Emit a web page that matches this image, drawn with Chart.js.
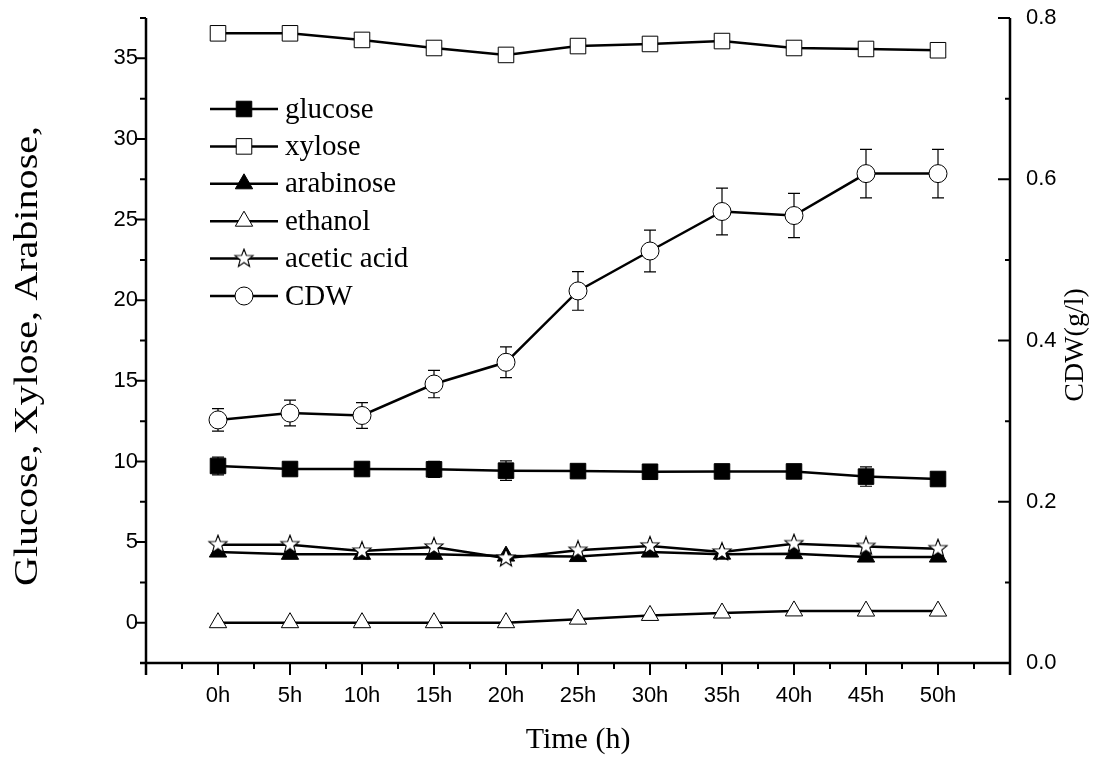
<!DOCTYPE html>
<html>
<head>
<meta charset="utf-8">
<script src="https://cdn.jsdelivr.net/npm/chart.js@4.4.1/dist/chart.umd.min.js"></script>
<style>
  body { margin: 0; background: #fff; }
  canvas { display: block; }
</style>
</head>
<body>
<canvas id="grafico" width="1093" height="771"></canvas>
<script>
const horas = [0, 5, 10, 15, 20, 25, 30, 35, 40, 45, 50];
const glucosa = [9.72, 9.53, 9.53, 9.51, 9.43, 9.40, 9.36, 9.38, 9.38, 9.06, 8.91];
const glucosaErr = [0.55, 0.3, 0.3, 0.5, 0.6, 0.3, 0.3, 0.3, 0.3, 0.6, 0.3];
const xilosa = [36.55, 36.55, 36.14, 35.64, 35.21, 35.76, 35.89, 36.07, 35.64, 35.58, 35.5];
const arabinosa = [4.38, 4.24, 4.24, 4.24, 4.13, 4.1, 4.38, 4.25, 4.28, 4.07, 4.07];
const etanol = [0, 0, 0, 0, 0, 0.22, 0.45, 0.6, 0.73, 0.72, 0.72];
const acetico = [4.84, 4.84, 4.44, 4.69, 4.0, 4.49, 4.76, 4.38, 4.9, 4.73, 4.59];
const cdw = [0.3015, 0.310, 0.307, 0.346, 0.373, 0.4615, 0.511, 0.56, 0.555, 0.607, 0.607];
const cdwErr = [0.014, 0.016, 0.016, 0.017, 0.019, 0.024, 0.026, 0.029, 0.0275, 0.03, 0.03];
const nombres = ["glucose", "xylose", "arabinose", "ethanol", "acetic acid", "CDW"];
const ticksIzq = [0, 5, 10, 15, 20, 25, 30, 35];
const ticksDer = [0, 0.2, 0.4, 0.6, 0.8];

const SANS = "'Liberation Sans', Arial, sans-serif";
const SERIF = "'Liberation Serif', 'Times New Roman', serif";

// estrella de cinco puntas (Chart.js no trae una)
const estrella = document.createElement("canvas");
estrella.width = 22;
estrella.height = 22;
{
    const c = estrella.getContext("2d");
    c.beginPath();
    for (let i = 0; i < 10; i++) {
        const r = i % 2 === 0 ? 9.5 : 4;
        const a = -Math.PI / 2 + i * Math.PI / 5;
        c.lineTo(11 + r * Math.cos(a), 11 + r * Math.sin(a));
    }
    c.closePath();
    c.fillStyle = "#fff";
    c.fill();
    c.lineWidth = 1.1;
    c.strokeStyle = "#000";
    c.stroke();
}

const puntos = (valores) => horas.map((h, i) => ({ x: h, y: valores[i] }));

const serie = (label, valores, estilo, relleno, radio, eje) => ({
    label: label,
    data: puntos(valores),
    yAxisID: eje,
    borderColor: "#000",
    borderWidth: 2.5,
    pointStyle: estilo,
    pointRadius: radio,
    pointBackgroundColor: relleno,
    pointBorderColor: "#000",
    pointBorderWidth: 1,
    tension: 0
});

const datasets = [
    serie(nombres[0], glucosa, "rect", "#000", 11, "y"),
    serie(nombres[1], xilosa, "rect", "#fff", 11, "y"),
    serie(nombres[2], arabinosa, "triangle", "#000", 10, "y"),
    serie(nombres[3], etanol, "triangle", "#fff", 10, "y"),
    serie(nombres[4], acetico, estrella, "#fff", 9, "y"),
    serie(nombres[5], cdw, "circle", "#fff", 9, "y1")
];
datasets[4].order = -1;

function barras(ctx, x, errores, valores, escala) {
    ctx.save();
    ctx.strokeStyle = "#000";
    ctx.lineWidth = 1.2;
    horas.forEach((h, i) => {
        const px = x.getPixelForValue(h);
        const arriba = escala.getPixelForValue(valores[i] + errores[i]);
        const abajo = escala.getPixelForValue(valores[i] - errores[i]);
        ctx.beginPath();
        ctx.moveTo(px, arriba); ctx.lineTo(px, abajo);
        ctx.moveTo(px - 6, arriba); ctx.lineTo(px + 6, arriba);
        ctx.moveTo(px - 6, abajo); ctx.lineTo(px + 6, abajo);
        ctx.stroke();
    });
    ctx.restore();
}

const sinRelleno = (s) => {
    s.paddingTop = 0; s.paddingBottom = 0;
    s.paddingLeft = 0; s.paddingRight = 0;
};

const extras = {
    id: "extras",
    beforeDatasetsDraw(chart) {
        const { ctx, scales } = chart;
        barras(ctx, scales.x, glucosaErr, glucosa, scales.y);
        barras(ctx, scales.x, cdwErr, cdw, scales.y1);
    },
    afterDraw(chart) {
        const { ctx, chartArea, scales } = chart;
        const { left, right, top, bottom } = chartArea;
        ctx.save();
        ctx.strokeStyle = "#000";
        ctx.lineWidth = 2.5;
        ctx.beginPath();
        ctx.moveTo(left, top); ctx.lineTo(left, bottom + 12);
        ctx.moveTo(left - 6, bottom); ctx.lineTo(right, bottom);
        ctx.moveTo(right, top); ctx.lineTo(right, bottom + 12);
        ctx.stroke();

        ctx.lineWidth = 2;
        ctx.beginPath();
        for (let v = -2.5; v <= 37.5; v += 2.5) {
            const py = scales.y.getPixelForValue(v);
            const largo = (v % 5 === 0) ? 11 : 6;
            ctx.moveTo(left - largo, py); ctx.lineTo(left, py);
        }
        for (let v = -2.5; v <= 52.5; v += 2.5) {
            const px = scales.x.getPixelForValue(v);
            const largo = (v % 5 === 0) ? 12 : 6;
            ctx.moveTo(px, bottom); ctx.lineTo(px, bottom + largo);
        }
        for (let k = 0; k <= 8; k++) {
            const py = scales.y1.getPixelForValue(k / 10);
            const largo = (k % 2 === 0) ? 12 : 5;
            ctx.moveTo(right - largo, py); ctx.lineTo(right, py);
        }
        ctx.stroke();

        // titulos
        ctx.fillStyle = "#000";
        ctx.textAlign = "center";
        ctx.textBaseline = "middle";
        ctx.font = "30px " + SERIF;
        ctx.fillText("Time (h)", (left + right) / 2, 740);

        ctx.save();
        ctx.translate(28, 356);
        ctx.rotate(-Math.PI / 2);
        ctx.scale(1.18, 1);
        ctx.font = "34px " + SERIF;
        ctx.fillText("Glucose, Xylose, Arabinose,", 0, 0);
        ctx.restore();

        ctx.save();
        ctx.translate(1076, 345);
        ctx.rotate(-Math.PI / 2);
        ctx.font = "28px " + SERIF;
        ctx.fillText("CDW(g/l)", 0, 0);
        ctx.restore();

        // leyenda
        ctx.font = "29px " + SERIF;
        ctx.textAlign = "left";
        datasets.forEach((d, i) => {
            const ly = 109 + i * 37.4;
            ctx.lineWidth = 2.5;
            ctx.beginPath();
            ctx.moveTo(210, ly); ctx.lineTo(278, ly);
            ctx.stroke();
            ctx.fillStyle = d.pointBackgroundColor;
            ctx.lineWidth = 1;
            Chart.helpers.drawPoint(ctx, {
                pointStyle: d.pointStyle,
                radius: d.pointRadius,
                borderWidth: 1,
                rotation: 0
            }, 244, ly);
            ctx.fillStyle = "#000";
            ctx.fillText(d.label, 285, ly + 1);
        });
        ctx.restore();
    }
};

new Chart(document.getElementById("grafico"), {
    type: "line",
    data: { datasets: datasets },
    options: {
        responsive: false,
        animation: false,
        layout: { padding: { top: 18, left: 0, right: 0, bottom: 0 } },
        plugins: { legend: { display: false }, tooltip: { enabled: false } },
        scales: {
            x: {
                type: "linear",
                min: -5,
                max: 55,
                grid: { display: false, drawTicks: false },
                border: { display: false },
                ticks: {
                    color: "#000",
                    font: { family: SANS, size: 22 },
                    padding: 20,
                    maxRotation: 0,
                    autoSkip: false,
                    callback: (v) => v + "h"
                },
                afterBuildTicks: (s) => { s.ticks = horas.map((v) => ({ value: v })); },
                afterFit: (s) => { s.height = 108; sinRelleno(s); }
            },
            y: {
                position: "left",
                min: -2.5,
                max: 37.5,
                grid: { display: false, drawTicks: false },
                border: { display: false },
                ticks: {
                    color: "#000",
                    font: { family: SANS, size: 22 },
                    padding: 8,
                    autoSkip: false
                },
                afterBuildTicks: (s) => { s.ticks = ticksIzq.map((v) => ({ value: v })); },
                afterFit: (s) => { s.width = 146; sinRelleno(s); }
            },
            y1: {
                position: "right",
                min: 0,
                max: 0.8,
                grid: { display: false, drawTicks: false },
                border: { display: false },
                ticks: {
                    color: "#000",
                    font: { family: SANS, size: 22 },
                    padding: 16,
                    autoSkip: false,
                    callback: (v) => v.toFixed(1)
                },
                afterBuildTicks: (s) => { s.ticks = ticksDer.map((v) => ({ value: v })); },
                afterFit: (s) => { s.width = 83; sinRelleno(s); }
            }
        }
    },
    plugins: [extras]
});
</script>
</body>
</html>
